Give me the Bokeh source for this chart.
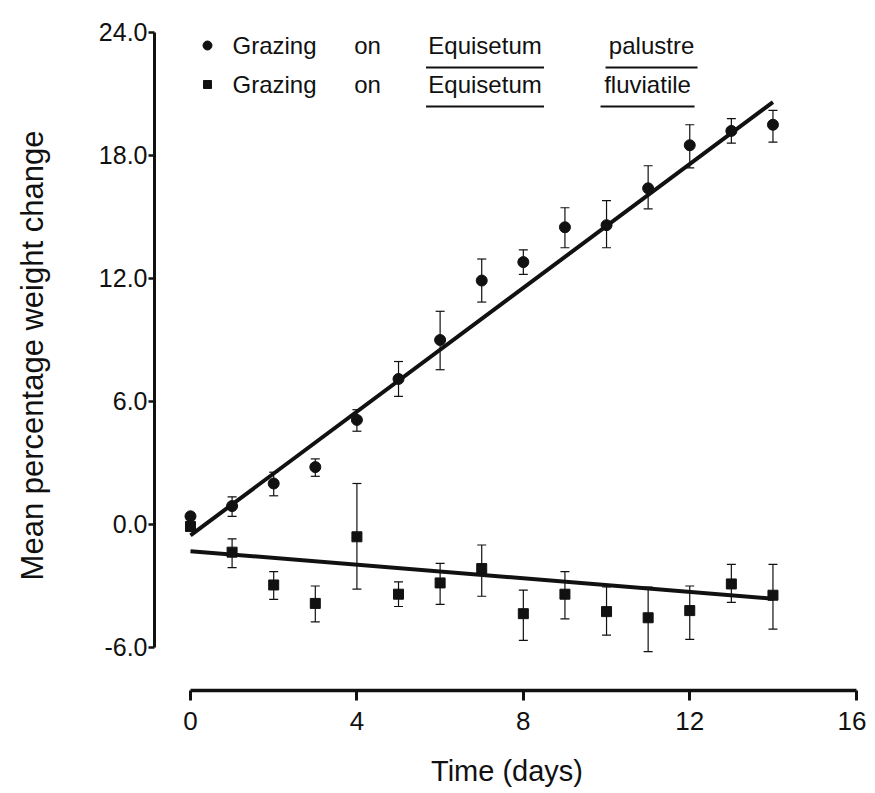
from bokeh.plotting import figure
from bokeh.models import (ColumnDataSource, Whisker, TeeHead, FixedTicker,
                          NumeralTickFormatter, Range1d)
from bokeh.core.properties import value
from bokeh.embed import file_html
from bokeh.resources import INLINE

# ---------------- data ----------------
days = [0, 1, 2, 3, 4, 5, 6, 7, 8, 9, 10, 11, 12, 13, 14]

palustre = [0.4, 0.9, 2.0, 2.8, 5.1, 7.1, 9.0, 11.9, 12.8, 14.5, 14.6, 16.4, 18.5, 19.2, 19.5]
palustre_upper = [0.55, 1.35, 2.55, 3.2, 5.6, 7.95, 10.4, 12.95, 13.4, 15.45, 15.8, 17.5, 19.5, 19.8, 20.2]
palustre_lower = [0.25, 0.4, 1.4, 2.35, 4.55, 6.25, 7.55, 10.85, 12.2, 13.5, 13.5, 15.4, 17.4, 18.6, 18.65]

fluviatile = [-0.1, -1.35, -2.95, -3.85, -0.6, -3.4, -2.85, -2.15, -4.35, -3.4, -4.25, -4.55, -4.2, -2.9, -3.45]
fluviatile_upper = [0.05, -0.7, -2.3, -3.0, 2.0, -2.8, -1.9, -1.0, -3.2, -2.3, -3.05, -3.05, -3.0, -1.95, -1.95]
fluviatile_lower = [-0.25, -2.1, -3.65, -4.75, -3.15, -4.0, -3.9, -3.5, -5.65, -4.6, -5.4, -6.2, -5.6, -3.8, -5.1]

fit_days = [0, 14]
palustre_fit = [-0.53, 20.6]
fluviatile_fit = [-1.3, -3.62]

x_ticks = [0, 4, 8, 12, 16]
y_ticks = [-6, 0, 6, 12, 18, 24]

legend_species = ["palustre", "fluviatile"]

# ---------------- figure ----------------
INK = "#111111"
FONT = "Liberation Sans"

p = figure(width=866, height=790, output_backend="svg", toolbar_location=None,
           x_range=Range1d(-0.865, 16.08), y_range=Range1d(-8.098, 24.585),
           min_border_left=154, min_border_right=7, min_border_top=20,
           min_border_bottom=100)
p.outline_line_color = None
p.grid.visible = False
p.background_fill_color = "white"
p.border_fill_color = "white"

# axes
xa = p.xaxis[0]
xa.ticker = FixedTicker(ticks=x_ticks)
xa.bounds = (0, 16)
xa.axis_line_width = 3.5
xa.axis_line_color = INK
xa.major_tick_line_width = 3
xa.major_tick_line_color = INK
xa.major_tick_out = 10
xa.major_tick_in = 0
xa.minor_tick_line_color = None
xa.major_label_text_font = FONT
xa.major_label_text_font_size = "26px"
xa.major_label_text_color = INK
xa.major_label_standoff = 11
xa.axis_label = "Time (days)"
xa.axis_label_text_font = FONT
xa.axis_label_text_font_size = "29px"
xa.axis_label_text_font_style = "normal"
xa.axis_label_text_color = INK
xa.axis_label_standoff = 22

ya = p.yaxis[0]
ya.ticker = FixedTicker(ticks=y_ticks)
ya.bounds = (-6, 24)
ya.formatter = NumeralTickFormatter(format="0.0")
ya.axis_line_width = 3
ya.axis_line_color = INK
ya.major_tick_line_width = 2.5
ya.major_tick_line_color = INK
ya.major_tick_out = 6
ya.major_tick_in = 0
ya.minor_tick_line_color = None
ya.major_label_text_font = FONT
ya.major_label_text_font_size = "25px"
ya.major_label_text_color = INK
ya.major_label_standoff = 1
ya.axis_label = "Mean percentage weight change"
ya.axis_label_text_font = FONT
ya.axis_label_text_font_size = "31px"
ya.axis_label_text_font_style = "normal"
ya.axis_label_text_color = INK
ya.axis_label_standoff = 46

# error bars
src_p = ColumnDataSource(dict(x=days, y=palustre, upper=palustre_upper, lower=palustre_lower))
src_f = ColumnDataSource(dict(x=days, y=fluviatile, upper=fluviatile_upper, lower=fluviatile_lower))
for src in (src_p, src_f):
    w = Whisker(base="x", upper="upper", lower="lower", source=src,
                line_color=INK, line_width=1.2,
                upper_head=TeeHead(size=9, line_color=INK, line_width=1.2),
                lower_head=TeeHead(size=9, line_color=INK, line_width=1.2))
    p.add_layout(w)

# fitted lines
p.line(fit_days, palustre_fit, line_color=INK, line_width=4)
p.line(fit_days, fluviatile_fit, line_color=INK, line_width=4)

# points
p.scatter("x", "y", source=src_p, marker="circle", size=11,
          fill_color=INK, line_color=INK)
p.scatter("x", "y", source=src_f, marker="square", size=10,
          fill_color=INK, line_color=INK)

# ---------------- legend (manual, with underlined species names) ----------------
def gx(px):  # image pixel -> data x (layout helper)
    return (px - 191) / 41.6

def gy(py):  # image pixel -> data y (layout helper)
    return (524 - py) / 20.5

row_y = [45, 84]
ul_y = [67, 106]
p.scatter([gx(208)], [gy(row_y[0])], marker="circle", size=9, fill_color=INK, line_color=INK)
p.scatter([gx(208)], [gy(row_y[1])], marker="square", size=8, fill_color=INK, line_color=INK)

word_cx = [275, 368, 485.5]
species_cx = [652, 648]
species_half = [46, 47]
for r in range(2):
    words = ["Grazing", "on", "Equisetum", legend_species[r]]
    cxs = word_cx + [species_cx[r]]
    p.text(x=[gx(c) for c in cxs], y=[gy(row_y[r])] * 4, text=words,
           text_font=value(FONT), text_font_size="24px", text_color=INK,
           text_align="center", text_baseline="middle")
    # underlines under "Equisetum" and the species name
    p.segment(x0=[gx(485.5 - 59), gx(cxs[3] - species_half[r])],
              y0=[gy(ul_y[r])] * 2,
              x1=[gx(485.5 + 59), gx(cxs[3] + species_half[r])],
              y1=[gy(ul_y[r])] * 2,
              line_color=INK, line_width=2)

open("out.html", "w").write(file_html(p, INLINE))
